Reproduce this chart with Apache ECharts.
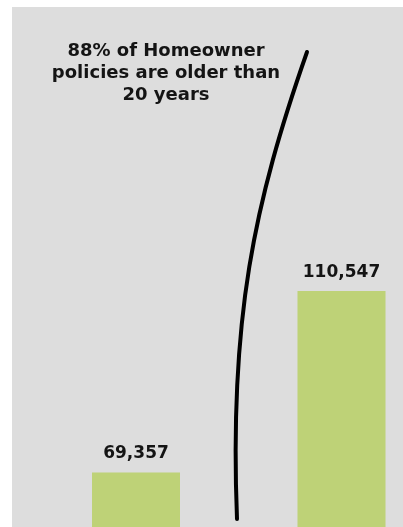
<!DOCTYPE html>
<html>
<head>
<meta charset="utf-8">
<style>
  html, body { margin: 0; padding: 0; background: #ffffff; }
  #chart { width: 403px; height: 527px; }
</style>
<script src="https://cdn.jsdelivr.net/npm/echarts@6/dist/echarts.min.js"></script>
</head>
<body>
<div id="chart"></div>
<script>
const categories = ['Policies under 20 years', 'Policies over 20 years'];
const policyCounts = [69357, 110547];
const annotationLines = ['88% of Homeowner', 'policies are older than', '20 years'];

const chart = echarts.init(document.getElementById('chart'), null, { renderer: 'canvas' });
const FONT = '"DejaVu Sans", sans-serif';

chart.setOption({
  animation: false,
  backgroundColor: '#ffffff',
  grid: { left: 136, right: 61.5, top: 7, bottom: 0, containLabel: false },
  xAxis: {
    type: 'category',
    data: categories,
    boundaryGap: false,
    show: false
  },
  yAxis: {
    type: 'value',
    min: 57000,
    max: 175000,
    show: false,
    splitLine: { show: false }
  },
  series: [{
    type: 'bar',
    data: policyCounts,
    barWidth: 88,
    clip: false,
    itemStyle: { color: '#bed277' },
    label: {
      show: true,
      position: 'top',
      distance: 10,
      color: '#141414',
      fontFamily: FONT,
      fontWeight: 'bold',
      fontSize: 17,
      formatter: p => p.value.toLocaleString('en-US')
    },
    z: 5
  }],
  graphic: [
    {
      type: 'rect',
      shape: { x: 12, y: 7, width: 391, height: 520 },
      style: { fill: '#dddddd' },
      z: -10,
      silent: true
    },
    {
      type: 'text',
      x: 166,
      y: 40,
      z: 10,
      style: {
        text: annotationLines.join('\n'),
        fill: '#141414',
        font: 'bold 18px ' + FONT,
        lineHeight: 22,
        textAlign: 'center',
        textVerticalAlign: 'top'
      }
    },
    {
      type: 'bezierCurve',
      z: 10,
      shape: { x1: 307, y1: 52, cpx1: 254.5, cpy1: 202, cpx2: 229, cpy2: 319, x2: 237, y2: 519 },
      style: { stroke: '#000000', lineWidth: 4, fill: null, lineCap: 'round' }
    }
  ]
});
</script>
</body>
</html>
